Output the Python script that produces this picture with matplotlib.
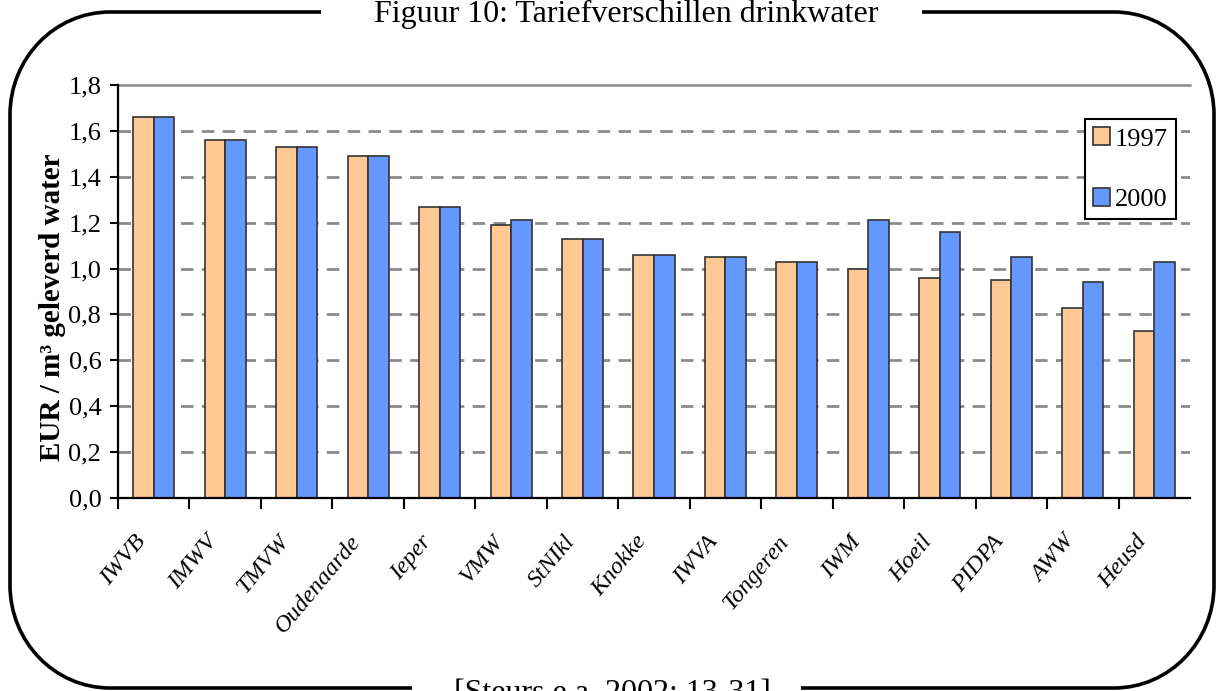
"""
Recreates 'Figuur 10: Tariefverschillen drinkwater' as a grouped bar chart
of the drinking water price (EUR per m3) per water company, 1997 vs 2000.
"""

import matplotlib
import matplotlib.pyplot as plt
import numpy as np
from matplotlib.patches import PathPatch
from matplotlib.path import Path
from matplotlib.transforms import Affine2D, ScaledTranslation

matplotlib.use("Agg")

companies = ["IWVB", "IMWV", "TMVW", "Oudenaarde", "Ieper", "VMW", "StNIkl",
             "Knokke", "IWVA", "Tongeren", "IWM", "Hoeil", "PIDPA", "AWW", "Heusd"]
price_1997 = [1.66, 1.56, 1.53, 1.49, 1.27, 1.19, 1.13, 1.06, 1.05, 1.03,
              1.00, 0.96, 0.95, 0.83, 0.73]
price_2000 = [1.66, 1.56, 1.53, 1.49, 1.27, 1.21, 1.13, 1.06, 1.05, 1.03,
              1.21, 1.16, 1.05, 0.94, 1.03]
y_ticks = [0.0, 0.2, 0.4, 0.6, 0.8, 1.0, 1.2, 1.4, 1.6, 1.8]
series_labels = ["1997", "2000"]

W, H = 1220, 691
SERIF = "Liberation Serif"
K = 0.5523  # bezier factor for a quarter ellipse


def draw_frame(fig):
    """Draw the rounded black frame with gaps for title and source (pixel coords)."""
    px = Affine2D().scale(1 / W, -1 / H).translate(0, 1) + fig.transFigure
    rx, ry = 100, 103
    xl, xr, yt, yb = 10, 1214, 12, 688
    C4 = Path.CURVE4
    left = Path(
        [(321, yt), (xl + rx, yt), (xl + rx - K * rx, yt), (xl, yt + ry - K * ry),
         (xl, yt + ry), (xl, yb - ry), (xl, yb - ry + K * ry),
         (xl + rx - K * rx, yb), (xl + rx, yb), (412, yb)],
        [Path.MOVETO, Path.LINETO, C4, C4, C4, Path.LINETO, C4, C4, C4, Path.LINETO])
    right = Path(
        [(801, yb), (xr - rx, yb), (xr - rx + K * rx, yb), (xr, yb - ry + K * ry),
         (xr, yb - ry), (xr, yt + ry), (xr, yt + ry - K * ry),
         (xr - rx + K * rx, yt), (xr - rx, yt), (922, yt)],
        [Path.MOVETO, Path.LINETO, C4, C4, C4, Path.LINETO, C4, C4, C4, Path.LINETO])
    for p in (left, right):
        fig.patches.append(PathPatch(p, transform=px, facecolor="none",
                                     edgecolor="black", lw=2.6,
                                     capstyle="butt", joinstyle="round"))


def plot_prices():
    fig = plt.figure(figsize=(W / 100, H / 100), dpi=100)
    ax = fig.add_axes([118 / W, 1 - 498 / H, 1072 / W, 413 / H])

    x = np.arange(len(companies))
    bw = 0.287
    ax.bar(x - bw / 2, price_1997, bw, color="#FFC996", edgecolor="#333333",
           lw=1.2, label=series_labels[0], zorder=3)
    ax.bar(x + bw / 2, price_2000, bw, color="#6699FF", edgecolor="#333333",
           lw=1.2, label=series_labels[1], zorder=3)

    ax.set_xlim(-0.5, len(companies) - 0.5)
    ax.set_ylim(0, 1.8)

    # grid: dashed gray, top line solid
    for v in y_ticks[1:-1]:
        ax.axhline(v, color="#8c8c8c", lw=2, ls=(0, (4.5, 3)), zorder=1)
    ax.axhline(1.8, color="#8c8c8c", lw=1.8, zorder=1, clip_on=False)

    for side in ("top", "right"):
        ax.spines[side].set_visible(False)
    for side in ("left", "bottom"):
        ax.spines[side].set_linewidth(1.6)
        ax.spines[side].set_zorder(4)

    ax.set_yticks(y_ticks)
    ax.set_yticklabels([f"{v:.1f}".replace(".", ",") for v in y_ticks],
                       fontfamily=SERIF, fontsize=19)
    ax.tick_params(axis="y", length=6, width=1.5, pad=6)

    ax.set_xticks(x)
    ax.set_xticklabels(companies, rotation=50, ha="right", va="top",
                       rotation_mode="anchor", fontfamily=SERIF,
                       fontstyle="italic", fontsize=17.5)
    ax.tick_params(axis="x", which="major", length=0, pad=14)
    ax.set_xticks(np.arange(-0.5, len(companies) - 1, 1.0), minor=True)
    ax.tick_params(axis="x", which="minor", length=8, width=1.5)
    shift = ScaledTranslation(-14 / 72, -10 / 72, fig.dpi_scale_trans)
    for lab in ax.get_xticklabels():
        lab.set_transform(lab.get_transform() + shift)

    leg = ax.legend(loc="upper left", bbox_to_anchor=(0.902, 0.918),
                    prop={"family": SERIF, "size": 19}, fancybox=False,
                    edgecolor="black", framealpha=1, handlelength=0.62,
                    handleheight=0.68, handletextpad=0.18, labelspacing=1.4,
                    borderpad=0.32, borderaxespad=0)
    leg.get_frame().set_linewidth(1.5)
    leg.set_zorder(5)

    fig.text(52 / W, 1 - 307 / H, "EUR / m³ geleverd water", rotation=90,
             ha="center", va="center", fontfamily=SERIF, fontweight="bold",
             fontsize=21)
    fig.text(626 / W, 1 - 22 / H, "Figuur 10: Tariefverschillen drinkwater",
             ha="center", va="baseline", fontfamily=SERIF, fontsize=23)
    fig.text(612 / W, 1 - 701 / H, "[Steurs e.a. 2002; 13-31]",
             ha="center", va="baseline", fontfamily=SERIF, fontsize=23)

    draw_frame(fig)
    fig.savefig("out.png", dpi=100)


def execute():
    plot_prices()


if __name__ == "__main__":
    execute()
